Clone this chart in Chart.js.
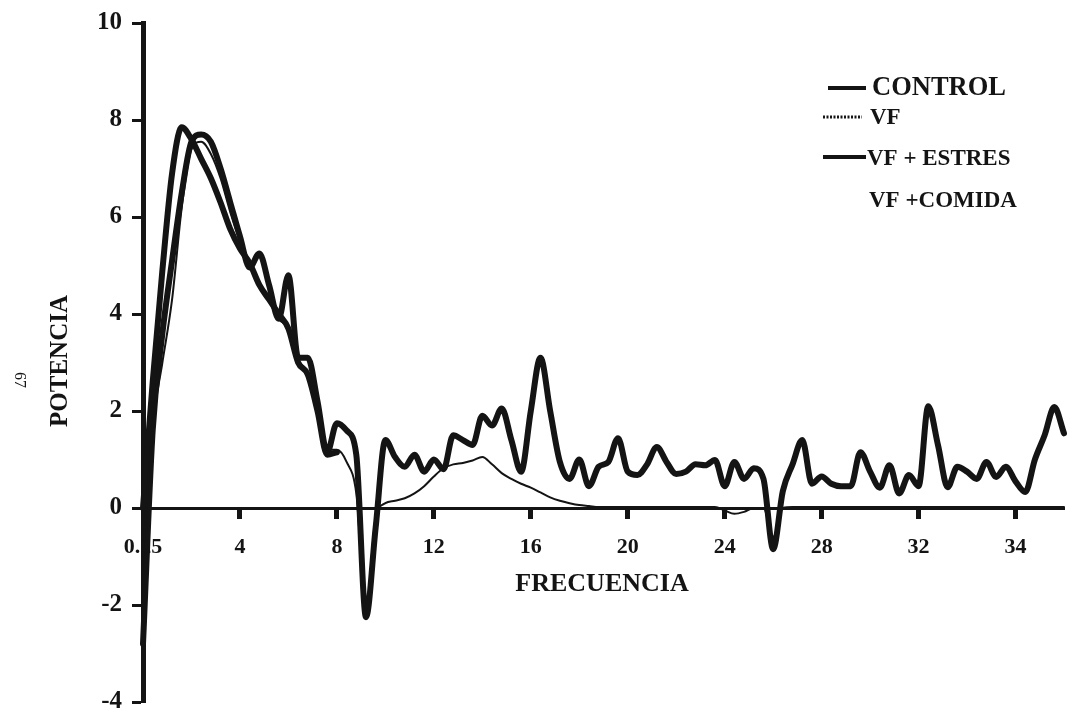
<!DOCTYPE html>
<html>
<head>
<meta charset="utf-8">
<script src="https://cdn.jsdelivr.net/npm/chart.js@4/dist/chart.umd.min.js"></script>
<style>
  html, body { margin: 0; padding: 0; background: #fff; }
  #grafica { display: block; }
</style>
</head>
<body>
<canvas id="grafica" width="1074" height="717"></canvas>
<script>
// etiquetas del eje de frecuencia (una cada 10 puntos)
const etiquetasX = ['0.25', '4', '8', '12', '16', '20', '24', '28', '32', '34'];
const puntosPorTramo = 10;
const totalPuntos = 96;
const categorias = Array.from({ length: totalPuntos }, (_, i) =>
    i % puntosPorTramo === 0 ? etiquetasX[i / puntosPorTramo] : '');

const ticksY = [-4, -2, 0, 2, 4, 6, 8, 10];

const control = [
    -2.8, 1.6, 3.6, 5.1, 6.5, 7.55, 7.7, 7.55, 7.0, 6.3,
    5.6, 4.96, 5.25, 4.6, 3.9, 4.8, 3.1, 3.1, 2.2, 1.15,
    1.75, 1.6, 1.1, -2.25, -0.4, 1.4, 1.05, 0.85, 1.1, 0.75,
    1.0, 0.8, 1.5, 1.4, 1.3, 1.9, 1.7, 2.05, 1.4, 0.75,
    2.0, 3.1, 2.0, 0.95, 0.6, 1.0, 0.45, 0.85, 0.95, 1.44,
    0.75, 0.68, 0.9, 1.26, 0.95, 0.7, 0.75, 0.9, 0.88, 0.99,
    0.45, 0.95, 0.6, 0.82, 0.6, -0.85, 0.35, 0.9, 1.4, 0.5,
    0.65, 0.5, 0.45, 0.45, 1.15, 0.75, 0.42, 0.88, 0.3, 0.68,
    0.45, 2.1, 1.3, 0.43, 0.85, 0.75, 0.6, 0.95, 0.64, 0.85,
    0.55, 0.33, 1.0, 1.5, 2.08, 1.54
];

const vf = [
    -1.0, 1.7, 3.0, 4.3, 6.2, 7.4, 7.55, 7.3, 6.8, 6.1,
    5.5, 5.0, 4.6, 4.3, 3.9, 3.7, 3.05, 2.8, 2.1, 1.2,
    1.2, 0.95, 0.3, -2.1, -0.2, 0.1, 0.15, 0.2, 0.3, 0.45,
    0.65, 0.82, 0.9, 0.93, 0.98, 1.05, 0.9, 0.72, 0.6, 0.5,
    0.42, 0.32, 0.22, 0.15, 0.1, 0.06, 0.04, 0.02, 0.02, 0.02,
    0.02, 0.02, 0.02, 0.02, 0.02, 0.02, 0.02, 0.02, 0.02, 0.02,
    -0.05, -0.12, -0.08, 0.0, 0.0, -0.6, 0.0, 0.02, 0.02, 0.02,
    0.02, 0.02, 0.02, 0.02, 0.02, 0.02, 0.02, 0.02, 0.02, 0.02,
    0.02, 0.02, 0.02, 0.02, 0.02, 0.02, 0.02, 0.02, 0.02, 0.02,
    0.02, 0.02, 0.02, 0.02, 0.02, 0.02
];

const vfEstres = [
    0.0, 2.6, 4.9, 6.9, 7.85, 7.6, 7.2, 6.8, 6.3, 5.75,
    5.35, 5.05, 4.6, 4.3, 4.0, 3.7, 3.0, 2.75, 2.0, 1.1,
    1.15
];

const serie = (label, data, width) => ({
    label,
    data,
    borderColor: '#141414',
    borderWidth: width,
    pointRadius: 0,
    fill: false,
    cubicInterpolationMode: 'monotone',
    borderCapStyle: 'round',
    borderJoinStyle: 'round',
    clip: false
});

const serif = 'bold {s}px "Liberation Serif", "DejaVu Serif", serif';
const fuente = (s) => serif.replace('{s}', s);

// textos: titulos de ejes, leyenda y numero de pagina
const textos = {
    id: 'textos',
    afterDraw(chart) {
        const c = chart.ctx;
        c.save();
        c.fillStyle = '#141414';
        c.strokeStyle = '#141414';
        c.textBaseline = 'middle';

        c.save();
        c.translate(61, 361);
        c.rotate(-Math.PI / 2);
        c.font = fuente(25);
        c.textAlign = 'center';
        c.fillText('POTENCIA', 0, 0);
        c.restore();

        c.save();
        c.translate(19, 380);
        c.rotate(Math.PI / 2);
        c.font = '16px "Liberation Serif", serif';
        c.textAlign = 'center';
        c.fillText('67', 0, 0);
        c.restore();

        c.font = fuente(26);
        c.textAlign = 'center';
        c.fillText('FRECUENCIA', 602, 584);

        // leyenda
        c.textAlign = 'left';
        c.lineCap = 'butt';
        c.lineWidth = 4;
        c.beginPath(); c.moveTo(828, 88); c.lineTo(866, 88); c.stroke();
        c.font = fuente(26.5);
        c.fillText('CONTROL', 872, 88);

        c.lineWidth = 3;
        c.setLineDash([2, 1.5]);
        c.beginPath(); c.moveTo(823, 117); c.lineTo(862, 117); c.stroke();
        c.setLineDash([]);
        c.font = fuente(23);
        c.fillText('VF', 870, 118);

        c.lineWidth = 4;
        c.beginPath(); c.moveTo(823, 157); c.lineTo(866, 157); c.stroke();
        c.fillText('VF + ESTRES', 867, 159);

        c.fillText('VF +COMIDA', 869, 201);
        c.restore();
    }
};

new Chart(document.getElementById('grafica'), {
    type: 'line',
    data: {
        labels: categorias,
        datasets: [
            serie('VF', vf, 2),
            serie('VF + ESTRES', vfEstres, 6),
            serie('CONTROL', control, 6)
        ]
    },
    options: {
        responsive: false,
        animation: false,
        layout: { padding: { top: 23, right: 10, bottom: 0, left: 0 } },
        plugins: { legend: { display: false }, tooltip: { enabled: false } },
        scales: {
            x: {
                type: 'category',
                position: { y: 0 },
                grid: {
                    drawOnChartArea: false,
                    tickLength: 9,
                    tickWidth: 5,
                    color: (ctx) => ctx.index % puntosPorTramo === 0 ? '#141414' : 'rgba(0,0,0,0)'
                },
                border: { display: true, color: '#141414', width: 3 },
                ticks: {
                    autoSkip: false,
                    maxRotation: 0,
                    padding: 6,
                    color: '#141414',
                    font: { family: '"Liberation Serif", serif', size: 22, weight: 'bold', lineHeight: 2.2 }
                }
            },
            y: {
                min: -4,
                max: 10,
                afterBuildTicks: (scale) => { scale.ticks = ticksY.map(v => ({ value: v })); },
                afterFit: (scale) => { scale.width = 143; },
                grid: {
                    drawOnChartArea: false,
                    tickLength: 11,
                    tickWidth: 3,
                    color: '#141414'
                },
                border: { display: true, color: '#141414', width: 5 },
                ticks: {
                    padding: 10,
                    color: '#141414',
                    font: { family: '"Liberation Serif", serif', size: 25, weight: 'bold', lineHeight: 0.4 }
                }
            }
        }
    },
    plugins: [textos]
});
</script>
</body>
</html>
